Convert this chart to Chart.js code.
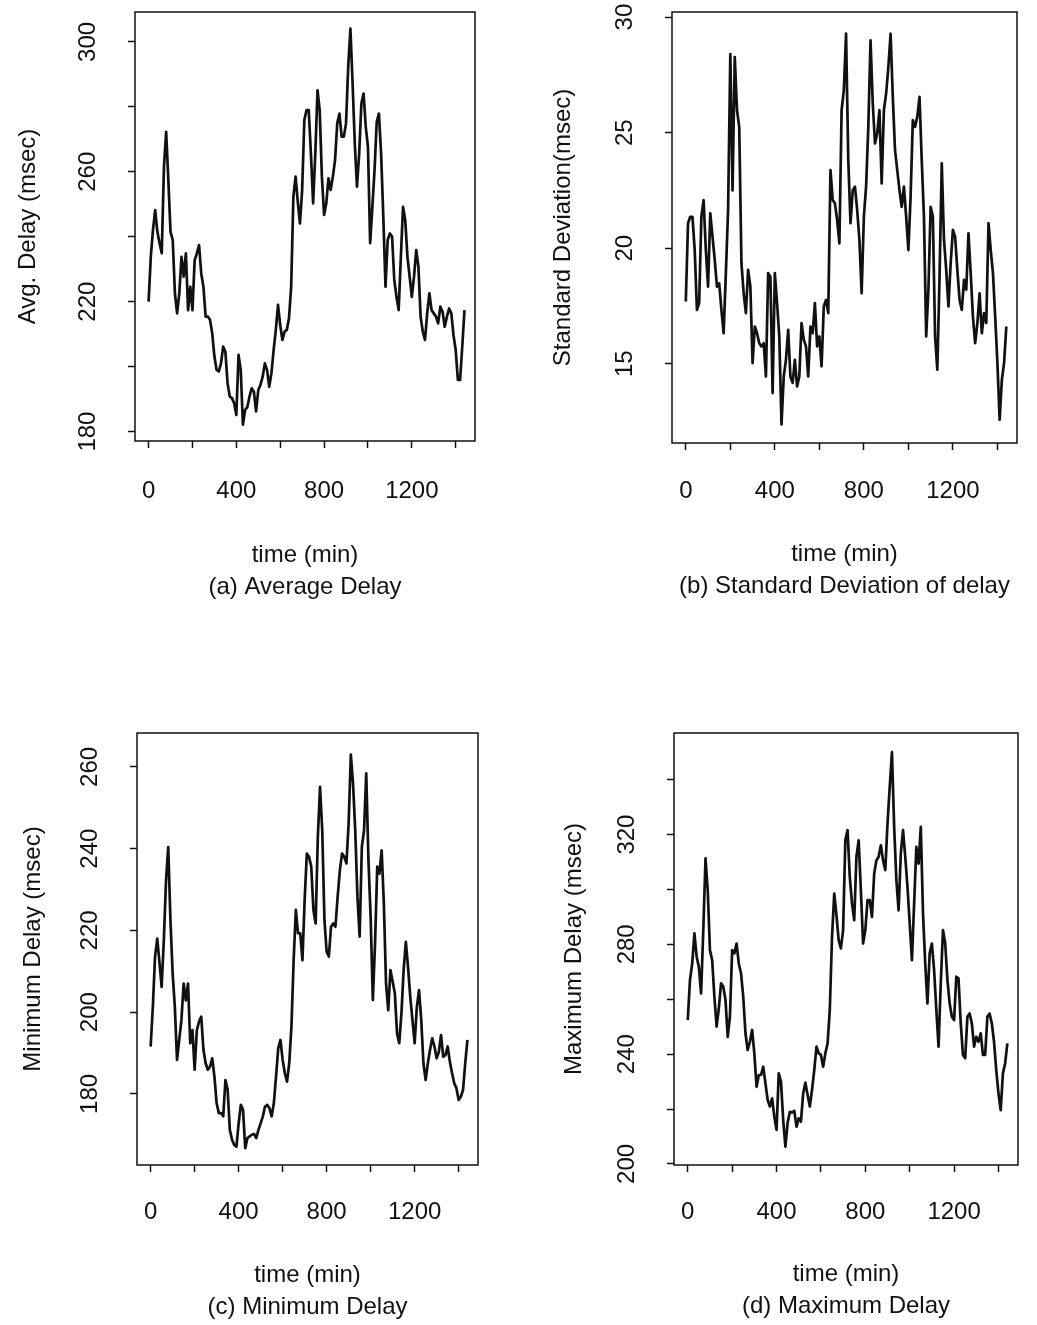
<!DOCTYPE html>
<html>
<head>
<meta charset="utf-8">
<title>Delay over one day</title>
<script src="https://cdn.jsdelivr.net/npm/chart.js@4.4.1/dist/chart.umd.min.js"></script>
<style>
  body { margin: 0; background: #fff; width: 1037px; height: 1325px; position: relative; overflow: hidden; }
  canvas { position: absolute; }
</style>
</head>
<body>
<canvas id="avgDelay" width="518" height="662" style="left:0;top:0"></canvas>
<canvas id="stdDelay" width="519" height="662" style="left:518px;top:0"></canvas>
<canvas id="minDelay" width="518" height="663" style="left:0;top:662px"></canvas>
<canvas id="maxDelay" width="519" height="663" style="left:518px;top:662px"></canvas>
<script>
// one sample every 10 minutes over the day
const minutes = Array.from({ length: 145 }, (_, i) => i * 10);

const xTicks = [0, 200, 400, 600, 800, 1000, 1200, 1400];
const xTickLabels = [0, 400, 800, 1200];

const avgDelay = [
  220.0, 233.8, 242.1, 248.2, 241.5, 238.0, 234.9, 261.5, 272.3, 257.4,
  241.5, 239.0, 222.6, 216.4, 222.6, 233.8, 227.7, 234.9, 217.4, 224.6,
  217.4, 232.8, 234.9, 237.4, 228.7, 224.6, 215.4, 215.4, 214.4, 210.3,
  203.1, 199.0, 198.5, 201.0, 206.2, 204.6, 194.9, 190.8, 190.3, 188.7,
  185.1, 203.6, 199.0, 182.1, 186.7, 187.5, 190.8, 193.3, 192.3, 186.2,
  192.8, 194.4, 196.9, 201.0, 199.0, 193.8, 198.0, 205.1, 211.3, 219.0,
  212.8, 208.2, 210.8, 211.3, 214.9, 224.6, 252.3, 258.5, 250.8, 244.1,
  254.4, 275.9, 279.0, 279.0, 265.6, 250.3, 265.6, 285.1, 279.0, 258.5,
  246.7, 250.3, 258.0, 254.4, 258.5, 263.6, 274.9, 277.9, 270.8, 270.8,
  274.9, 292.3, 304.1, 287.2, 268.7, 255.4, 265.6, 281.0, 284.1, 273.8,
  267.7, 238.0, 249.0, 260.5, 275.4, 277.9, 265.6, 246.2, 224.6, 239.0,
  241.0, 240.0, 226.7, 221.5, 217.4, 233.8, 249.2, 245.1, 233.8, 227.7,
  221.5, 227.7, 235.9, 230.8, 215.4, 210.8, 208.2, 216.4, 222.6, 217.4,
  216.4, 215.4, 213.3, 218.5, 216.9, 212.3, 215.4, 217.9, 216.4, 209.7,
  205.1, 195.9, 195.9, 206.2, 217.4
];

const stdDelay = [
  17.69, 21.08, 21.36, 21.36, 19.92, 17.33, 17.62, 21.36, 22.08, 19.92,
  18.34, 21.51, 20.50, 19.49, 18.34, 18.48, 17.33, 16.32, 18.92, 21.65,
  28.40, 22.50, 28.27, 25.97, 25.25, 19.35, 18.05, 17.19, 19.06, 18.34,
  15.03, 16.61, 16.32, 15.89, 15.75, 15.89, 14.45, 18.92, 18.77, 13.73,
  18.92, 17.62, 16.18, 12.37, 14.45, 15.17, 16.47, 14.45, 14.17, 15.17,
  14.02, 14.45, 16.76, 16.04, 15.75, 14.45, 16.61, 16.32, 17.62, 15.75,
  16.18, 14.89, 17.48, 17.76, 17.19, 23.38, 22.08, 21.94, 21.22, 20.21,
  25.97, 26.83, 29.28, 23.81, 21.08, 22.51, 22.66, 21.65, 20.36, 18.05,
  21.36, 22.66, 25.25, 28.99, 26.26, 24.53, 24.96, 25.97, 22.80, 25.97,
  26.69, 27.84, 29.28, 26.55, 24.24, 23.38, 22.51, 21.79, 22.66, 21.36,
  19.92, 22.23, 25.54, 25.25, 25.68, 26.55, 23.81, 21.36, 16.18, 18.20,
  21.79, 21.36, 16.18, 14.74, 18.77, 23.67, 20.36, 19.06, 17.48, 19.35,
  20.79, 20.50, 19.06, 17.76, 17.33, 18.63, 18.20, 20.64, 18.92, 17.04,
  15.89, 16.76, 18.05, 16.32, 17.19, 16.76, 21.08, 19.92, 18.92, 17.04,
  15.03, 12.58, 14.31, 15.03, 16.61
];

const minDelay = [
  191.6, 201.3, 213.6, 218.0, 212.3, 206.2, 217.6, 232.3, 240.4, 222.5,
  209.5, 201.3, 188.3, 193.2, 198.1, 207.0, 202.9, 207.0, 192.4, 195.6,
  185.9, 195.6, 197.7, 198.9, 190.8, 187.5, 185.9, 186.7, 188.7, 184.2,
  177.7, 175.3, 175.3, 174.5, 183.4, 181.0, 171.2, 168.8, 167.5, 167.1,
  172.8, 177.3, 176.1, 166.7, 169.2, 169.6, 170.0, 170.2, 169.2, 171.2,
  172.8, 174.5, 176.9, 177.3, 176.5, 174.5, 177.7, 184.2, 191.2, 193.2,
  188.3, 185.1, 183.0, 187.5, 196.5, 212.7, 225.0, 219.3, 219.3, 212.7,
  227.4, 238.8, 238.0, 235.6, 225.0, 221.7, 242.9, 255.1, 244.5, 222.5,
  214.8, 213.6, 220.9, 221.7, 220.9, 228.2, 234.7, 238.8, 238.0, 236.4,
  246.2, 263.0, 255.9, 244.5, 228.2, 218.5, 240.4, 244.5, 258.4, 237.2,
  223.3, 203.0, 216.8, 235.6, 233.9, 239.6, 226.6, 207.0, 200.5, 210.3,
  207.5, 204.6, 194.8, 192.4, 199.7, 210.3, 217.2, 211.1, 203.8, 198.1,
  192.4, 201.3, 205.4, 198.1, 187.5, 183.4, 187.5, 190.8, 193.6, 191.6,
  188.7, 190.3, 194.4, 189.1, 189.5, 191.6, 187.9, 185.1, 182.6, 181.4,
  178.5, 179.3, 181.0, 187.5, 193.2
];

const maxDelay = [
  252.4, 267.0, 273.0, 284.0, 275.5, 271.8, 262.1, 285.2, 311.3, 299.7,
  277.9, 274.2, 260.9, 250.0, 256.7, 265.8, 264.6, 259.7, 246.3, 253.6,
  277.9, 276.7, 280.3, 273.0, 269.4, 260.9, 247.6, 241.5, 244.5, 248.8,
  240.3, 228.1, 232.4, 232.4, 235.4, 229.4, 223.3, 220.9, 223.9, 217.2,
  212.4, 233.0, 230.0, 216.0, 206.3, 215.0, 219.0, 218.7, 219.4, 213.6,
  216.6, 215.4, 225.7, 229.6, 225.1, 220.9, 227.0, 234.2, 242.7, 240.3,
  239.7, 235.4, 240.3, 243.9, 256.1, 282.7, 298.5, 290.6, 281.5, 278.5,
  285.2, 317.9, 321.6, 304.6, 294.9, 288.8, 311.9, 317.9, 299.7, 280.3,
  285.2, 296.1, 296.1, 290.0, 305.8, 310.6, 311.9, 316.1, 310.6, 307.0,
  324.0, 337.3, 350.0, 322.8, 303.4, 292.4, 313.1, 321.6, 311.9, 300.9,
  287.6, 274.2, 294.9, 315.5, 309.4, 322.8, 291.2, 273.0, 258.5, 276.7,
  280.3, 270.6, 256.1, 242.7, 265.8, 285.2, 280.3, 267.0, 258.5, 253.6,
  252.4, 268.2, 267.6, 251.2, 239.7, 238.5, 253.6, 254.8, 251.2, 242.7,
  246.3, 244.5, 247.6, 239.7, 239.7, 253.6, 254.8, 251.2, 244.5, 234.2,
  225.7, 219.6, 233.0, 236.6, 243.9
];

const avgTicks = [180, 200, 220, 240, 260, 280, 300];
const avgTickLabels = [180, 220, 260, 300];
const stdTicks = [15, 20, 25, 30];
const stdTickLabels = [15, 20, 25, 30];
const minTicks = [180, 200, 220, 240, 260];
const minTickLabels = [180, 200, 220, 240, 260];
const maxTicks = [200, 220, 240, 260, 280, 300, 320, 340];
const maxTickLabels = [200, 240, 280, 320];

const INK = '#111';
const FONT = '"Liberation Sans", Arial, Helvetica, sans-serif';
Chart.defaults.font.family = FONT;
Chart.defaults.color = INK;

// box around the plot region plus y labels written along the axis
const rFrame = {
  id: 'rFrame',
  afterDraw(chart) {
    const { ctx, chartArea: a } = chart;
    const y = chart.scales.y;
    ctx.save();
    ctx.strokeStyle = INK;
    ctx.lineWidth = 1.5;
    ctx.strokeRect(a.left, a.top, a.right - a.left, a.bottom - a.top);
    ctx.fillStyle = INK;
    ctx.font = '24px ' + FONT;
    ctx.textAlign = 'center';
    ctx.textBaseline = 'middle';
    y.ticks.forEach(t => {
      if (!t.label) return;
      ctx.save();
      ctx.translate(a.left - 47, y.getPixelForValue(t.value));
      ctx.rotate(-Math.PI / 2);
      ctx.fillText(t.label, 0, 0);
      ctx.restore();
    });
    ctx.restore();
  }
};

function drawPanel(p) {
  const canvas = document.getElementById(p.id);
  const W = canvas.width, H = canvas.height;
  const a = p.area;
  new Chart(canvas, {
    type: 'line',
    data: {
      labels: minutes,
      datasets: [{
        data: p.values,
        borderColor: INK,
        borderWidth: 2.7,
        borderJoinStyle: 'round',
        pointRadius: 0,
        tension: 0,
        fill: false
      }]
    },
    options: {
      responsive: false,
      animation: false,
      devicePixelRatio: 1,
      layout: { padding: { left: 0, top: a.top, right: W - a.right, bottom: 0 } },
      plugins: { legend: { display: false }, tooltip: { enabled: false } },
      scales: {
        x: {
          type: 'linear',
          min: -62,
          max: 1488,
          afterBuildTicks: s => { s.ticks = xTicks.map(v => ({ value: v })); },
          afterFit: s => { s.height = H - a.bottom; },
          ticks: {
            autoSkip: false,
            maxRotation: 0,
            padding: p.xLabelY - a.bottom - 7 - 14.4,
            font: { size: 24 },
            color: INK,
            callback: v => xTickLabels.includes(v) ? String(v) : ''
          },
          grid: { drawOnChartArea: false, drawTicks: true, tickLength: 7, tickColor: INK, tickWidth: 1.5 },
          border: { display: false },
          title: {
            display: true,
            text: ['time (min)', p.caption],
            color: INK,
            font: { size: 24, lineHeight: 32 / 24 },
            padding: { top: 0, bottom: H - p.xTitleY - 48 }
          }
        },
        y: {
          min: p.yMin,
          max: p.yMax,
          afterBuildTicks: s => { s.ticks = p.ticks.map(v => ({ value: v })); },
          afterFit: s => { s.width = a.left; },
          ticks: {
            display: false,
            callback: v => p.tickLabels.includes(v) ? String(v) : ''
          },
          grid: { drawOnChartArea: false, drawTicks: true, tickLength: 7, tickColor: INK, tickWidth: 1.5 },
          border: { display: false },
          title: {
            display: true,
            text: p.yTitle,
            color: INK,
            font: { size: 24, lineHeight: 1.2 },
            padding: { top: p.yTitleX - 14.4, bottom: 0 }
          }
        }
      }
    },
    plugins: [rFrame]
  });
}

drawPanel({
  id: 'avgDelay', values: avgDelay, ticks: avgTicks, tickLabels: avgTickLabels,
  yMin: 177.1, yMax: 309.2, yTitle: 'Avg. Delay (msec)', caption: '(a) Average Delay',
  area: { left: 135, top: 12, right: 475, bottom: 441 }, xLabelY: 491.5, xTitleY: 555, yTitleX: 28
});
drawPanel({
  id: 'stdDelay', values: stdDelay, ticks: stdTicks, tickLabels: stdTickLabels,
  yMin: 11.57, yMax: 30.22, yTitle: 'Standard Deviation(msec)', caption: '(b) Standard Deviation of delay',
  area: { left: 154, top: 12, right: 499, bottom: 443 }, xLabelY: 491, xTitleY: 554, yTitleX: 45
});
drawPanel({
  id: 'minDelay', values: minDelay, ticks: minTicks, tickLabels: minTickLabels,
  yMin: 162.6, yMax: 268.3, yTitle: 'Minimum Delay (msec)', caption: '(c) Minimum Delay',
  area: { left: 137, top: 71, right: 478, bottom: 503 }, xLabelY: 550, xTitleY: 613, yTitleX: 33
});
drawPanel({
  id: 'maxDelay', values: maxDelay, ticks: maxTicks, tickLabels: maxTickLabels,
  yMin: 199.6, yMax: 357, yTitle: 'Maximum Delay (msec)', caption: '(d) Maximum Delay',
  area: { left: 156, top: 71, right: 500, bottom: 503 }, xLabelY: 550, xTitleY: 612, yTitleX: 56
});
</script>
</body>
</html>
